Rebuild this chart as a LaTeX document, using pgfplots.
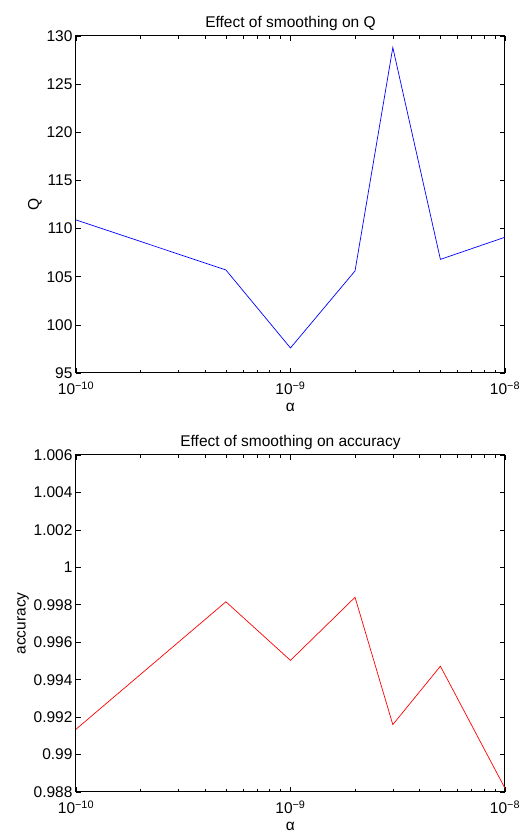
\documentclass[border=0pt]{standalone}
\usepackage{pgfplots}
\pgfplotsset{compat=1.18}
\usepackage{fontspec}
\setmainfont{Liberation Sans}
\pgfplotsset{
  mystyle/.style={
    scale only axis, width=429pt, height=337pt,
    xmin=1e-10, xmax=1e-8,
    xtick={1e-10,1e-9,1e-8},
    xticklabels={10\textsuperscript{−10},10\textsuperscript{−9},10\textsuperscript{−8}},
    tick align=inside, axis line style={line width=1pt},
    major tick length=5pt, minor tick length=3pt,
    tick style={line width=0.6pt, black},
    tick label style={font=\fontsize{15.5}{17}\selectfont},
    xticklabel style={yshift=-5pt},
    xlabel style={font=\fontsize{15.5}{17}\selectfont, yshift=-2pt},
    ylabel style={font=\fontsize{15.5}{17}\selectfont, yshift=-2pt},
    title style={font=\fontsize{15.5}{17}\selectfont, yshift=-4pt},
    xlabel={α},
  }
}
\begin{document}
\begin{tikzpicture}
\path[use as bounding box] (0pt,0pt) rectangle (522pt,832pt);
\begin{axis}[xmode=log, mystyle, at={(76pt,459pt)}, anchor=south west,
  title={Effect of smoothing on Q},
  ymin=95, ymax=130, ytick={95,100,...,130},
  yticklabels={95,100,105,110,115,120,125,130},
  ylabel={Q}]
\addplot[blue, line width=0.7pt] coordinates {
(1e-10,110.9) (5e-10,105.7) (1e-9,97.6) (2e-9,105.6) (3e-9,128.8) (5e-9,106.8) (1e-8,109.1)};
\end{axis}
\begin{axis}[xmode=log, mystyle, at={(76pt,40pt)}, anchor=south west,
  title={Effect of smoothing on accuracy},
  ymin=0.988, ymax=1.006,
  ytick={0.988,0.990,0.992,0.994,0.996,0.998,1.000,1.002,1.004,1.006},
  yticklabels={0.988,0.99,0.992,0.994,0.996,0.998,1,1.002,1.004,1.006},
  ylabel={accuracy}]
\addplot[red, line width=0.7pt] coordinates {
(1e-10,0.99135) (5e-10,0.99816) (1e-9,0.99503) (2e-9,0.99840) (3e-9,0.99160) (5e-9,0.99472) (1e-8,0.98820)};
\end{axis}
\end{tikzpicture}
\end{document}
